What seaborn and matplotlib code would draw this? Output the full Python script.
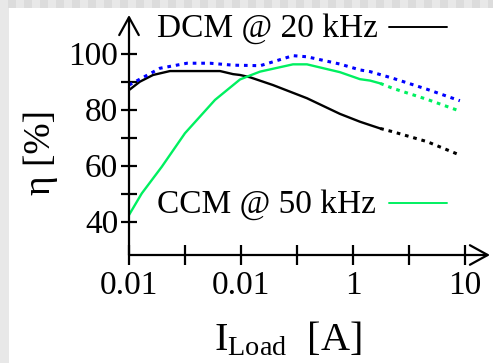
import matplotlib
matplotlib.use("Agg")
import matplotlib.pyplot as plt
import seaborn as sns
from matplotlib.patches import Rectangle
from matplotlib.lines import Line2D
from matplotlib.ticker import FixedLocator, NullLocator

# ---------------- data ----------------
i_dcm = [0.01, 0.0125, 0.0164, 0.0232, 0.033, 0.065, 0.085, 0.098, 0.12, 0.193,
         0.388, 0.765, 1.155, 1.42, 1.75, 2.28, 4.58, 9.0]
eta_dcm = [87.0, 90.0, 92.4, 93.8, 93.8, 93.8, 92.7, 92.4, 91.6, 88.8,
           84.1, 78.5, 75.7, 74.5, 73.3, 72.1, 68.6, 63.8]

i_ccm = [0.01, 0.013, 0.0196, 0.0316, 0.0586, 0.098, 0.12, 0.148, 0.291,
         0.388, 0.765, 1.155, 1.42, 1.75, 2.28, 4.58, 9.0]
eta_ccm = [42.4, 50.1, 59.6, 71.6, 83.5, 90.8, 92.2, 93.6, 96.2,
           96.2, 93.4, 90.9, 90.4, 89.4, 87.6, 83.7, 79.5]

i_blue = [0.01, 0.0125, 0.0189, 0.033, 0.0528, 0.085, 0.12, 0.148, 0.193, 0.291,
          0.388, 0.765, 1.155, 1.42, 2.28, 4.58, 9.0]
eta_blue = [88.8, 90.9, 94.8, 96.6, 96.6, 95.9, 95.8, 95.7, 97.1, 99.3,
            98.9, 96.3, 94.2, 93.6, 91.2, 87.3, 83.2]

solid_until = 1.75  # measured part (solid) vs extrapolated part (dotted)

x_ticks = [0.01, 0.0316, 0.1, 0.316, 1, 3.16, 10]
x_ticklabels = ["0.01", "", "0.01", "", "1", "", "10"]
y_ticks = [40, 50, 60, 70, 80, 90, 100]
y_ticklabels = ["40", "", "60", "", "80", "", "100"]

label_dcm = "DCM @ 20 kHz"
label_ccm = "CCM @ 50 kHz"
xlabel = r"$\mathrm{I}_{\mathrm{Load}}$  [A]"
ylabel = "η [%]"

# ---------------- style ----------------
sns.set_style("white")
plt.rcParams["font.family"] = ["Liberation Serif", "DejaVu Serif"]
plt.rcParams["text.color"] = "black"
plt.rcParams["mathtext.fontset"] = "custom"
plt.rcParams["mathtext.rm"] = "Liberation Serif"
plt.rcParams["mathtext.it"] = "Liberation Serif:italic"

W, H = 493, 363
fig = plt.figure(figsize=(W / 100, H / 100), dpi=100)
fig.patch.set_facecolor("white")

def fx(x):
    return x / W

def fy(y):
    return 1 - y / H

# checkered frame (left strip + top strip)
fig.add_artist(Rectangle((0, 0), fx(8.5), 1, transform=fig.transFigure,
                         facecolor="#e8e8e8", edgecolor="none", zorder=0))
for k in range(0, W, 8):
    col = "#e8e8e8" if (k // 8) % 2 == 0 else "#dcdcdc"
    fig.add_artist(Rectangle((fx(k), fy(8)), fx(8), 8 / H, transform=fig.transFigure,
                             facecolor=col, edgecolor="none", zorder=0))

ax_l, ax_r, ax_b, ax_t = 129, 490, 255, 15
ax = fig.add_axes([fx(ax_l), fy(ax_b), fx(ax_r - ax_l), (ax_b - ax_t) / H])
ax.set_facecolor("none")
ax.set_xscale("log")
ax.set_xlim(0.01, 10 ** (-2 + (ax_r - ax_l) / 112))
ax.set_ylim(100 - (ax_b - 53.7) / 2.8, 100 + (53.7 - ax_t) / 2.8)

def split(xs, ys):
    a = [(x, y) for x, y in zip(xs, ys) if x <= solid_until]
    b = [(x, y) for x, y in zip(xs, ys) if x >= solid_until]
    return a, b

green = "#00f060"
dotted = (0, (1.2, 1.6))

for xs, ys, col in [(i_dcm, eta_dcm, "black"), (i_ccm, eta_ccm, green)]:
    a, b = split(xs, ys)
    sns.lineplot(x=[p[0] for p in a], y=[p[1] for p in a], ax=ax, color=col,
                 lw=1.7, sort=False, estimator=None)
    sns.lineplot(x=[p[0] for p in b], y=[p[1] for p in b], ax=ax, color=col,
                 lw=2.2, linestyle=dotted, sort=False, estimator=None)

sns.lineplot(x=i_blue, y=eta_blue, ax=ax, color="#0000ff", lw=2.2,
             linestyle=dotted, sort=False, estimator=None)

for s in ax.spines.values():
    s.set_visible(False)

arrow = dict(arrowstyle="->,head_length=0.4,head_width=0.22", lw=1.6,
             color="black", mutation_scale=32, shrinkA=0, shrinkB=0)
ax.annotate("", xy=(0, 1), xytext=(0, 0), xycoords="axes fraction",
            textcoords="axes fraction", arrowprops=arrow, annotation_clip=False)
ax.annotate("", xy=(1, 0), xytext=(0, 0), xycoords="axes fraction",
            textcoords="axes fraction", arrowprops=arrow, annotation_clip=False)

ax.xaxis.set_major_locator(FixedLocator(x_ticks))
ax.xaxis.set_minor_locator(NullLocator())
ax.set_xticklabels(x_ticklabels)
ax.yaxis.set_major_locator(FixedLocator(y_ticks))
ax.yaxis.set_minor_locator(NullLocator())
ax.set_yticklabels(y_ticklabels)
ax.tick_params(axis="x", direction="inout", length=14, width=1.6, labelsize=24,
               pad=4, colors="black", bottom=True)
ax.tick_params(axis="y", direction="inout", length=11.5, width=1.6, labelsize=24,
               pad=2, colors="black", left=True)
ax.grid(False)
ax.set_xlabel("")
ax.set_ylabel("")

# axis titles
fig.text(fx(288), fy(350), xlabel, fontsize=29, ha="center", va="baseline",
         color="black")
fig.text(fx(41), fy(153), ylabel, fontsize=27, ha="center", va="center",
         rotation=90, color="black")

# legend-like annotations
fig.text(fx(157), fy(37), label_dcm, fontsize=24, ha="left", va="baseline",
         color="black")
fig.add_artist(Line2D([fx(389), fx(447)], [fy(26.7), fy(26.7)], color="black",
                      lw=1.4, transform=fig.transFigure))
fig.text(fx(157), fy(213), label_ccm, fontsize=24, ha="left", va="baseline",
         color="black")
fig.add_artist(Line2D([fx(389), fx(447)], [fy(202.7), fy(202.7)], color=green,
                      lw=1.4, transform=fig.transFigure))

fig.savefig("out.png", dpi=100)
